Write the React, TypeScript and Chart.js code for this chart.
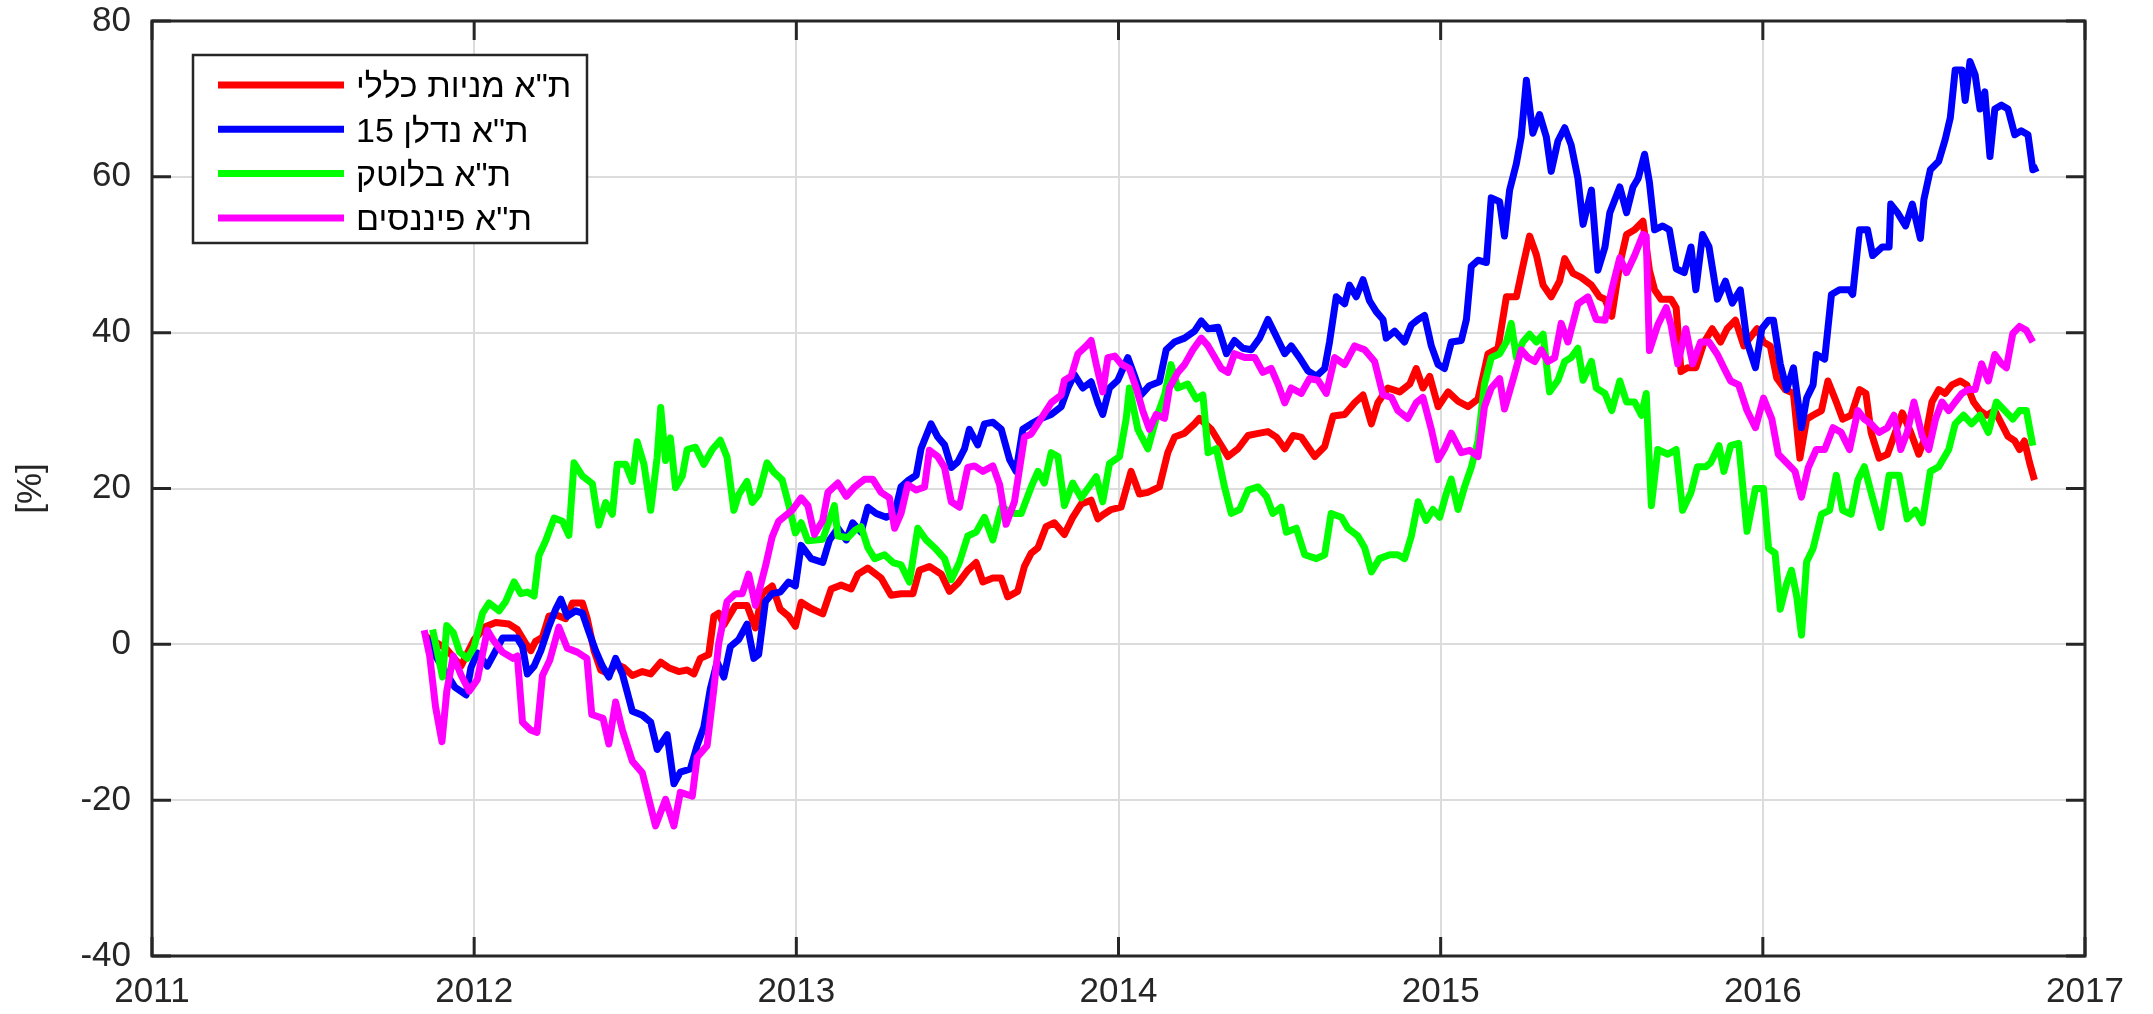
import React, { useEffect, useRef } from 'react';
import { Chart, registerables } from 'chart.js';

Chart.register(...registerables);

// ---- data (decimal year, percent) ----
const SERIES_LABELS = ['ת"א מניות כללי', 'ת"א נדלן 15', 'ת"א בלוטק', 'ת"א פיננסים'];
const SERIES_COLORS = ['#ff0000', '#0000ff', '#00ff00', '#ff00ff'];
const X_TICKS = [2011, 2012, 2013, 2014, 2015, 2016, 2017];
const Y_TICKS = [-40, -20, 0, 20, 40, 60, 80];

const redSeries = [
  [2011.850, 1.0], [2011.912, -0.5], [2011.959, -2.8], [2012.000, 0.6], [2012.036, 2.3], [2012.067, 2.8], [2012.108, 2.6], [2012.134, 1.9], [2012.160, 0.1], [2012.176, -0.8],
  [2012.191, 0.4], [2012.212, 0.9], [2012.232, 3.6], [2012.253, 3.8], [2012.284, 3.3], [2012.305, 5.3], [2012.336, 5.3], [2012.351, 3.3], [2012.372, -0.8], [2012.393, -3.3],
  [2012.418, -3.8], [2012.439, -2.5], [2012.465, -3.0], [2012.491, -4.0], [2012.522, -3.5], [2012.548, -3.8], [2012.579, -2.3], [2012.604, -3.0], [2012.635, -3.5], [2012.661, -3.3],
  [2012.682, -3.8], [2012.702, -1.8], [2012.728, -1.3], [2012.744, 3.6], [2012.759, 4.0], [2012.775, 2.5], [2012.811, 5.0], [2012.847, 5.0], [2012.873, 2.1], [2012.894, 6.5],
  [2012.925, 7.5], [2012.950, 4.5], [2012.976, 3.6], [2012.997, 2.3],
  [2013.015, 5.4], [2013.046, 4.6], [2013.082, 3.9], [2013.108, 7.1], [2013.139, 7.6], [2013.170, 7.1], [2013.191, 9.0], [2013.222, 9.8], [2013.263, 8.5], [2013.294, 6.3],
  [2013.325, 6.5], [2013.362, 6.5], [2013.382, 9.5], [2013.413, 10.0], [2013.450, 9.0], [2013.475, 6.8], [2013.501, 7.8], [2013.532, 9.5], [2013.558, 10.5], [2013.579, 8.0],
  [2013.610, 8.5], [2013.636, 8.5], [2013.656, 6.1], [2013.687, 6.8], [2013.708, 10.0], [2013.729, 11.7], [2013.750, 12.4], [2013.775, 15.1], [2013.801, 15.6], [2013.832, 14.1],
  [2013.858, 16.3], [2013.884, 18.0], [2013.915, 18.5], [2013.936, 16.1], [2013.951, 16.6], [2013.977, 17.3], [2014.008, 17.6], [2014.039, 22.2], [2014.065, 19.3], [2014.091, 19.5],
  [2014.127, 20.2], [2014.153, 24.6], [2014.174, 26.6], [2014.205, 27.1], [2014.236, 28.3], [2014.251, 29.0],
  [2014.288, 27.6], [2014.340, 24.1], [2014.371, 25.1], [2014.402, 26.8], [2014.438, 27.1], [2014.464, 27.3], [2014.490, 26.6], [2014.516, 25.1], [2014.542, 26.8], [2014.567, 26.6],
  [2014.609, 24.1], [2014.640, 25.4], [2014.666, 29.3], [2014.702, 29.5], [2014.733, 31.0], [2014.759, 32.0], [2014.785, 28.3], [2014.805, 31.0], [2014.836, 32.9], [2014.873, 32.4],
  [2014.904, 33.4], [2014.924, 35.4], [2014.945, 32.9], [2014.966, 34.4], [2014.992, 30.5], [2015.023, 32.4], [2015.054, 31.2], [2015.085, 30.5], [2015.116, 31.5], [2015.147, 37.3],
  [2015.178, 38.0], [2015.204, 44.6], [2015.235, 44.6], [2015.255, 48.5], [2015.276, 52.4], [2015.297, 50.0], [2015.318, 46.1], [2015.343, 44.6], [2015.369, 46.6], [2015.385, 49.5],
  [2015.411, 47.6], [2015.436, 47.1], [2015.468, 46.1], [2015.493, 44.6],
  [2015.510, 44.3], [2015.531, 42.1], [2015.556, 48.8], [2015.577, 52.6], [2015.602, 53.2], [2015.628, 54.3], [2015.648, 48.0], [2015.664, 45.5], [2015.684, 44.3], [2015.715, 44.3],
  [2015.731, 43.2], [2015.746, 35.0], [2015.766, 35.5], [2015.792, 35.5], [2015.818, 38.8], [2015.843, 40.5], [2015.869, 38.8], [2015.889, 40.5], [2015.915, 41.6], [2015.941, 38.3],
  [2015.961, 39.4], [2015.982, 40.5], [2016.002, 38.8], [2016.023, 38.3], [2016.043, 34.2], [2016.069, 32.7], [2016.095, 32.2], [2016.115, 23.9], [2016.136, 28.9], [2016.156, 29.4],
  [2016.182, 30.0], [2016.202, 33.8], [2016.228, 31.1], [2016.248, 28.9], [2016.274, 29.4], [2016.300, 32.7], [2016.320, 32.2], [2016.336, 27.2], [2016.361, 23.9], [2016.387, 24.4],
  [2016.407, 26.7], [2016.433, 29.7], [2016.459, 27.2], [2016.484, 24.4], [2016.505, 26.7], [2016.525, 31.1], [2016.546, 32.7], [2016.566, 32.2], [2016.587, 33.3], [2016.613, 33.8],
  [2016.633, 33.3], [2016.654, 31.1], [2016.674, 30.0], [2016.695, 29.4], [2016.720, 30.0], [2016.741, 28.3], [2016.761, 26.7], [2016.782, 26.1], [2016.797, 25.0], [2016.812, 26.1],
  [2016.828, 23.3], [2016.843, 21.1],
];

const blueSeries = [
  [2011.850, 1.0], [2011.880, -1.5], [2011.910, -3.5], [2011.940, -5.5], [2011.975, -6.5], [2011.990, -3.0], [2012.010, -1.1], [2012.041, -2.8], [2012.088, 0.8], [2012.134, 0.8],
  [2012.150, -0.3], [2012.165, -3.8], [2012.186, -2.8], [2012.207, -0.8], [2012.232, 2.3], [2012.253, 4.5], [2012.269, 5.8], [2012.289, 3.6], [2012.315, 4.3], [2012.336, 4.0],
  [2012.356, 1.6], [2012.377, -0.8], [2012.398, -2.8], [2012.418, -4.2], [2012.439, -1.8], [2012.460, -3.8], [2012.491, -8.6], [2012.522, -9.1], [2012.548, -10.0], [2012.568, -13.5],
  [2012.599, -11.6], [2012.620, -17.9], [2012.640, -16.4], [2012.671, -16.0], [2012.692, -13.0], [2012.713, -10.6], [2012.733, -5.7], [2012.754, -2.3], [2012.775, -4.2], [2012.795, -0.3],
  [2012.821, 0.6], [2012.847, 2.6], [2012.868, -1.8], [2012.883, -1.3], [2012.904, 5.5], [2012.925, 6.5], [2012.950, 6.7], [2012.976, 8.0], [2012.997, 7.5],
  [2013.015, 12.7], [2013.046, 11.0], [2013.082, 10.5], [2013.103, 13.4], [2013.129, 14.9], [2013.155, 13.4], [2013.175, 15.6], [2013.201, 14.4], [2013.222, 17.6], [2013.248, 16.8],
  [2013.279, 16.3], [2013.305, 16.8], [2013.325, 20.2], [2013.346, 21.0], [2013.372, 21.7], [2013.387, 25.1], [2013.418, 28.3], [2013.439, 26.6], [2013.460, 25.6], [2013.481, 22.7],
  [2013.501, 23.4], [2013.522, 25.1], [2013.537, 27.6], [2013.563, 25.6], [2013.584, 28.3], [2013.610, 28.5], [2013.636, 27.6], [2013.662, 23.7], [2013.682, 22.2], [2013.703, 27.6],
  [2013.729, 28.3], [2013.760, 29.0], [2013.791, 29.5], [2013.822, 30.5], [2013.843, 32.9], [2013.863, 34.6], [2013.889, 32.9], [2013.915, 33.7], [2013.936, 31.0], [2013.951, 29.5],
  [2013.972, 32.9], [2013.998, 33.9], [2014.029, 36.8], [2014.050, 34.4], [2014.070, 32.0], [2014.096, 33.2], [2014.127, 33.7], [2014.148, 37.8], [2014.174, 38.8], [2014.205, 39.3],
  [2014.236, 40.2], [2014.257, 41.5],
  [2014.278, 40.5], [2014.309, 40.7], [2014.335, 37.3], [2014.360, 39.0], [2014.386, 38.0], [2014.412, 37.8], [2014.438, 39.3], [2014.464, 41.7], [2014.490, 39.5], [2014.516, 37.3],
  [2014.536, 38.3], [2014.562, 36.8], [2014.588, 35.1], [2014.614, 34.4], [2014.640, 35.4], [2014.655, 38.8], [2014.676, 44.6], [2014.702, 43.7], [2014.717, 46.1], [2014.738, 44.6],
  [2014.759, 46.8], [2014.779, 44.1], [2014.800, 42.7], [2014.821, 41.7], [2014.831, 39.3], [2014.857, 40.2], [2014.888, 38.8], [2014.909, 41.0], [2014.930, 41.7], [2014.950, 42.2],
  [2014.971, 38.3], [2014.992, 35.9], [2015.012, 35.4], [2015.033, 38.8], [2015.064, 39.0], [2015.080, 41.7], [2015.095, 48.5], [2015.116, 49.3], [2015.142, 49.0], [2015.157, 57.3],
  [2015.183, 56.8], [2015.198, 52.4], [2015.214, 58.3], [2015.235, 61.7], [2015.250, 65.1], [2015.266, 72.4], [2015.286, 65.6], [2015.307, 68.0], [2015.328, 65.1], [2015.343, 60.7],
  [2015.364, 64.6], [2015.385, 66.3], [2015.405, 64.1], [2015.426, 59.8], [2015.442, 53.9], [2015.468, 58.3], [2015.488, 48.0],
  [2015.510, 51.0], [2015.525, 55.4], [2015.556, 58.7], [2015.577, 55.4], [2015.597, 58.7], [2015.613, 59.8], [2015.633, 62.9], [2015.648, 59.3], [2015.664, 53.2], [2015.689, 53.7],
  [2015.710, 53.2], [2015.731, 48.2], [2015.756, 47.7], [2015.777, 51.0], [2015.792, 45.5], [2015.813, 52.6], [2015.833, 51.0], [2015.859, 44.3], [2015.884, 46.6], [2015.905, 43.8],
  [2015.930, 45.5], [2015.951, 38.8], [2015.977, 35.5], [2015.997, 40.5], [2016.018, 41.6], [2016.033, 41.6], [2016.054, 36.0], [2016.074, 32.7], [2016.095, 35.5], [2016.120, 27.8],
  [2016.136, 31.6], [2016.156, 33.3], [2016.166, 37.2], [2016.192, 36.6], [2016.213, 44.9], [2016.238, 45.5], [2016.269, 45.5], [2016.279, 44.9], [2016.300, 53.2], [2016.325, 53.2],
  [2016.341, 49.9], [2016.371, 51.0], [2016.392, 51.0], [2016.397, 56.5], [2016.418, 55.4], [2016.443, 53.7], [2016.464, 56.5], [2016.489, 52.1], [2016.500, 57.1], [2016.520, 60.9],
  [2016.546, 62.0], [2016.566, 64.8], [2016.582, 67.6], [2016.597, 73.7], [2016.618, 73.7], [2016.628, 69.8], [2016.643, 74.8], [2016.659, 73.1], [2016.674, 68.7], [2016.689, 70.9],
  [2016.705, 62.6], [2016.720, 68.7], [2016.741, 69.2], [2016.761, 68.7], [2016.782, 65.4], [2016.802, 65.9], [2016.823, 65.4], [2016.838, 60.9], [2016.854, 61.2],
];

const greenSeries = [
  [2011.871, 1.9], [2011.902, -4.2], [2011.915, 2.4], [2011.935, 1.5], [2011.955, -1.0], [2011.979, -1.8], [2012.000, -0.3], [2012.026, 4.0], [2012.046, 5.3], [2012.077, 4.3],
  [2012.098, 5.5], [2012.124, 8.0], [2012.145, 6.5], [2012.165, 6.7], [2012.186, 6.2], [2012.201, 11.4], [2012.222, 13.3], [2012.248, 16.2], [2012.274, 15.8], [2012.294, 14.0],
  [2012.310, 23.3], [2012.336, 21.6], [2012.367, 20.6], [2012.387, 15.3], [2012.408, 18.2], [2012.429, 16.7], [2012.444, 23.1], [2012.470, 23.1], [2012.491, 20.9], [2012.506, 26.0],
  [2012.527, 23.1], [2012.548, 17.2], [2012.568, 24.0], [2012.579, 30.4], [2012.594, 23.6], [2012.609, 26.5], [2012.625, 20.1], [2012.646, 21.6], [2012.661, 25.0], [2012.687, 25.3],
  [2012.713, 23.1], [2012.739, 25.0], [2012.764, 26.2], [2012.785, 24.0], [2012.806, 17.2], [2012.821, 19.2], [2012.847, 20.9], [2012.863, 18.2], [2012.883, 19.2], [2012.909, 23.3],
  [2012.930, 22.1], [2012.956, 21.1], [2012.976, 18.0], [2012.997, 14.3],
  [2013.015, 15.6], [2013.036, 13.3], [2013.082, 13.5], [2013.118, 17.8], [2013.129, 13.9], [2013.160, 13.7], [2013.181, 14.6], [2013.201, 15.1], [2013.222, 12.4], [2013.243, 11.0],
  [2013.274, 11.5], [2013.300, 10.5], [2013.325, 10.2], [2013.351, 8.0], [2013.377, 14.9], [2013.403, 13.4], [2013.429, 12.4], [2013.460, 11.0], [2013.481, 8.3], [2013.506, 10.5],
  [2013.532, 13.9], [2013.558, 14.4], [2013.584, 16.3], [2013.610, 13.4], [2013.636, 17.6], [2013.677, 16.8], [2013.698, 16.8], [2013.729, 20.2], [2013.750, 22.2], [2013.770, 20.7],
  [2013.791, 24.6], [2013.812, 24.1], [2013.832, 17.8], [2013.858, 20.7], [2013.884, 18.8], [2013.905, 20.0], [2013.931, 21.5], [2013.951, 18.3], [2013.972, 23.2], [2014.003, 24.1],
  [2014.024, 29.0], [2014.034, 32.9], [2014.060, 27.6], [2014.091, 25.1], [2014.117, 29.0], [2014.143, 32.0], [2014.163, 35.9], [2014.184, 32.9], [2014.215, 33.4], [2014.241, 31.5],
  [2014.262, 32.0], [2014.278, 24.6], [2014.304, 25.1], [2014.329, 20.2], [2014.350, 16.8], [2014.376, 17.3], [2014.402, 19.8],
  [2014.433, 20.2], [2014.459, 19.0], [2014.479, 16.8], [2014.505, 17.6], [2014.521, 14.4], [2014.552, 14.9], [2014.578, 11.5], [2014.614, 11.0], [2014.640, 11.5], [2014.660, 16.8],
  [2014.692, 16.3], [2014.712, 14.9], [2014.743, 13.9], [2014.764, 12.4], [2014.785, 9.3], [2014.810, 11.0], [2014.842, 11.5], [2014.867, 11.5], [2014.888, 11.0], [2014.909, 13.9],
  [2014.930, 18.3], [2014.955, 15.9], [2014.976, 17.3], [2014.997, 16.3], [2015.017, 19.3], [2015.033, 21.2], [2015.054, 17.3], [2015.074, 20.2], [2015.095, 22.7], [2015.116, 26.1],
  [2015.136, 33.4], [2015.157, 36.8], [2015.183, 37.3], [2015.204, 38.8], [2015.219, 41.2], [2015.235, 36.8], [2015.255, 38.8], [2015.276, 39.8], [2015.297, 38.8], [2015.318, 39.8],
  [2015.338, 32.4], [2015.364, 33.9], [2015.385, 36.3], [2015.405, 36.8], [2015.426, 38.0], [2015.442, 33.9], [2015.468, 36.3], [2015.483, 32.9],
  [2015.510, 32.2], [2015.531, 30.0], [2015.556, 33.8], [2015.577, 31.1], [2015.602, 31.1], [2015.623, 29.4], [2015.638, 32.2], [2015.654, 17.8], [2015.674, 25.0], [2015.705, 24.4],
  [2015.731, 25.0], [2015.751, 17.2], [2015.777, 19.5], [2015.797, 22.8], [2015.823, 22.8], [2015.838, 23.3], [2015.864, 25.5], [2015.879, 22.2], [2015.900, 25.5], [2015.925, 25.8],
  [2015.951, 14.5], [2015.977, 20.0], [2016.002, 20.0], [2016.018, 12.3], [2016.038, 11.7], [2016.054, 4.5], [2016.074, 7.8], [2016.089, 9.5], [2016.105, 6.2], [2016.120, 1.2],
  [2016.136, 10.6], [2016.156, 12.3], [2016.182, 16.7], [2016.207, 17.2], [2016.228, 21.7], [2016.248, 17.2], [2016.274, 16.7], [2016.295, 21.1], [2016.315, 22.8], [2016.336, 19.5],
  [2016.366, 15.0], [2016.392, 21.7], [2016.423, 21.7], [2016.448, 16.1], [2016.474, 17.2], [2016.495, 15.6], [2016.520, 22.2], [2016.546, 22.8], [2016.577, 25.0], [2016.597, 28.3],
  [2016.623, 29.4], [2016.648, 28.3], [2016.674, 29.4], [2016.700, 27.2], [2016.725, 31.1], [2016.751, 30.0], [2016.776, 28.9], [2016.797, 30.0], [2016.818, 30.0], [2016.838, 25.5],
];

const magentaSeries = [
  [2011.845, 1.8], [2011.862, -1.5], [2011.880, -8.0], [2011.900, -12.5], [2011.915, -6.0], [2011.935, -1.5], [2011.960, -4.0], [2011.985, -6.0], [2012.010, -4.5], [2012.041, 1.8],
  [2012.060, 0.5], [2012.088, -1.0], [2012.120, -1.8], [2012.134, -1.5], [2012.150, -10.0], [2012.175, -11.0], [2012.195, -11.3], [2012.212, -4.0], [2012.235, -2.0], [2012.263, 2.2],
  [2012.289, -0.5], [2012.320, -1.0], [2012.350, -1.8], [2012.365, -9.0], [2012.400, -9.5], [2012.418, -12.8], [2012.439, -7.4], [2012.460, -11.0], [2012.491, -15.0], [2012.522, -16.5],
  [2012.563, -23.3], [2012.594, -19.9], [2012.620, -23.3], [2012.640, -19.0], [2012.677, -19.5], [2012.692, -14.5], [2012.723, -13.0], [2012.744, -5.7], [2012.759, 0.1], [2012.785, 5.5],
  [2012.811, 6.5], [2012.832, 6.5], [2012.852, 9.0], [2012.873, 5.0], [2012.904, 10.0], [2012.925, 13.8], [2012.945, 15.8], [2012.987, 17.2],
  [2013.015, 18.8], [2013.036, 17.8], [2013.056, 14.1], [2013.082, 15.9], [2013.098, 19.5], [2013.129, 20.7], [2013.155, 19.0], [2013.181, 20.2], [2013.212, 21.2], [2013.237, 21.2],
  [2013.263, 19.5], [2013.289, 18.8], [2013.305, 14.9], [2013.325, 16.8], [2013.346, 20.5], [2013.372, 19.8], [2013.398, 20.2], [2013.413, 24.9], [2013.439, 24.1], [2013.460, 22.7],
  [2013.481, 18.3], [2013.506, 17.6], [2013.532, 22.7], [2013.553, 22.9], [2013.579, 22.2], [2013.610, 22.9], [2013.631, 20.5], [2013.651, 15.4], [2013.677, 18.3], [2013.708, 26.6],
  [2013.729, 27.0], [2013.760, 29.0], [2013.791, 31.0], [2013.822, 32.0], [2013.832, 33.9], [2013.853, 34.4], [2013.874, 37.3], [2013.900, 38.3], [2013.915, 39.0], [2013.931, 35.9],
  [2013.951, 32.4], [2013.967, 36.8], [2013.988, 37.0], [2014.008, 36.0], [2014.034, 35.4], [2014.055, 32.9], [2014.075, 30.0], [2014.096, 27.6], [2014.117, 29.5], [2014.143, 29.0],
  [2014.158, 32.9], [2014.184, 34.9], [2014.205, 35.9], [2014.231, 37.8], [2014.257, 39.3],
  [2014.278, 38.3], [2014.319, 35.4], [2014.340, 34.9], [2014.360, 37.3], [2014.392, 36.8], [2014.423, 36.8], [2014.448, 34.9], [2014.474, 35.4], [2014.495, 33.4], [2014.516, 31.0],
  [2014.536, 32.9], [2014.567, 32.2], [2014.593, 34.1], [2014.619, 33.9], [2014.645, 32.2], [2014.671, 36.8], [2014.702, 35.9], [2014.733, 38.3], [2014.764, 37.8], [2014.795, 36.3],
  [2014.821, 32.0], [2014.847, 31.7], [2014.867, 30.0], [2014.898, 29.0], [2014.924, 31.0], [2014.945, 31.7], [2014.971, 27.6], [2014.992, 23.7], [2015.012, 25.1], [2015.033, 27.1],
  [2015.064, 24.6], [2015.090, 24.9], [2015.116, 24.1], [2015.136, 30.5], [2015.157, 32.9], [2015.183, 34.1], [2015.198, 30.2], [2015.224, 33.9], [2015.250, 37.8], [2015.271, 36.8],
  [2015.292, 36.3], [2015.312, 37.8], [2015.333, 36.3], [2015.354, 36.8], [2015.374, 41.2], [2015.395, 38.8], [2015.426, 43.7], [2015.457, 44.6], [2015.483, 41.7], [2015.510, 41.6],
  [2015.531, 45.5], [2015.556, 49.6], [2015.577, 47.7], [2015.602, 49.9], [2015.628, 52.6], [2015.638, 52.4], [2015.648, 37.7], [2015.674, 41.0], [2015.700, 43.2], [2015.715, 41.0],
  [2015.736, 36.0], [2015.761, 40.5], [2015.782, 36.0], [2015.807, 38.8], [2015.833, 38.8], [2015.859, 37.2], [2015.879, 35.5], [2015.900, 33.8], [2015.925, 33.3], [2015.951, 30.0],
  [2015.977, 27.8], [2016.002, 31.6], [2016.028, 28.9], [2016.048, 24.4], [2016.074, 23.3], [2016.100, 22.2], [2016.120, 18.9], [2016.141, 22.7], [2016.166, 25.0], [2016.192, 25.0],
  [2016.218, 27.8], [2016.243, 27.2], [2016.269, 25.0], [2016.295, 30.0], [2016.315, 28.9], [2016.336, 28.3], [2016.361, 27.2], [2016.387, 27.8], [2016.407, 29.4], [2016.428, 25.0],
  [2016.448, 27.2], [2016.469, 31.1], [2016.495, 26.7], [2016.515, 25.0], [2016.536, 28.9], [2016.556, 31.1], [2016.577, 30.0], [2016.597, 31.1], [2016.618, 32.2], [2016.638, 32.7],
  [2016.659, 32.7], [2016.679, 36.0], [2016.700, 33.8], [2016.720, 37.2], [2016.741, 36.0], [2016.756, 35.5], [2016.776, 39.9], [2016.797, 40.8], [2016.818, 40.3], [2016.838, 38.8],
];

const ALL_SERIES = [redSeries, blueSeries, greenSeries, magentaSeries];

// ---- style ----
const FONT_FAMILY = '"Liberation Sans", Arial, sans-serif';
const TEXT_COLOR = '#262626';
const AXIS_COLOR = '#262626';
const GRID_COLOR = '#dcdcdc';
const TICK_LEN = 19;

const frameAndLegend = {
  id: 'frameAndLegend',
  afterDraw(chart: any) {
    const { ctx, chartArea } = chart;
    const { left, right, top, bottom } = chartArea;
    const xs = chart.scales.x;
    const ys = chart.scales.y;
    ctx.save();
    ctx.strokeStyle = AXIS_COLOR;
    ctx.lineWidth = 3;
    ctx.beginPath();
    Y_TICKS.forEach((v) => {
      const py = ys.getPixelForValue(v);
      ctx.moveTo(left, py); ctx.lineTo(left + TICK_LEN, py);
      ctx.moveTo(right, py); ctx.lineTo(right - TICK_LEN, py);
    });
    X_TICKS.forEach((v) => {
      const px = xs.getPixelForValue(v);
      ctx.moveTo(px, bottom); ctx.lineTo(px, bottom - TICK_LEN);
      ctx.moveTo(px, top); ctx.lineTo(px, top + TICK_LEN);
    });
    ctx.stroke();
    ctx.strokeRect(left, top, right - left, bottom - top);

    // legend
    const bx = 193, by = 55, bw = 394, bh = 188;
    ctx.fillStyle = '#ffffff';
    ctx.fillRect(bx, by, bw, bh);
    ctx.lineWidth = 2.5;
    ctx.strokeStyle = AXIS_COLOR;
    ctx.strokeRect(bx, by, bw, bh);
    chart.data.datasets.forEach((ds: any, i: number) => {
      const ry = 85 + i * 44.3;
      ctx.strokeStyle = ds.borderColor;
      ctx.lineWidth = 7;
      ctx.lineCap = 'butt';
      ctx.beginPath();
      ctx.moveTo(218, ry);
      ctx.lineTo(344, ry);
      ctx.stroke();
      ctx.fillStyle = '#000000';
      ctx.font = `34px ${FONT_FAMILY}`;
      (ctx as any).direction = 'rtl';
      ctx.textAlign = 'left';
      ctx.textBaseline = 'middle';
      ctx.fillText(ds.label, 356, ry + 3);
    });
    ctx.restore();
  },
};

export default function App() {
  const canvasRef = useRef<HTMLCanvasElement | null>(null);

  useEffect(() => {
    if (!canvasRef.current) return;
    const datasets = ALL_SERIES.map((series, i) => ({
      label: SERIES_LABELS[i],
      data: series.map(([x, y]) => ({ x, y })),
      borderColor: SERIES_COLORS[i],
      backgroundColor: SERIES_COLORS[i],
      borderWidth: 7,
      pointRadius: 0,
      tension: 0,
      fill: false,
      borderJoinStyle: 'round' as const,
      order: 4 - i,
    }));
    const tickFont = { family: FONT_FAMILY, size: 35 };
    const chart = new Chart(canvasRef.current, {
      type: 'line',
      data: { datasets },
      options: {
        responsive: false,
        animation: false,
        events: [],
        layout: { padding: { top: 21, right: 68, left: 0, bottom: 0 } },
        plugins: { legend: { display: false }, tooltip: { enabled: false } },
        scales: {
          x: {
            type: 'linear',
            min: 2011,
            max: 2017,
            afterFit: (s: any) => {
              s.height = 58;
              s.paddingLeft = 0;
              s.paddingRight = 0;
            },
            grid: { color: GRID_COLOR, lineWidth: 2, drawTicks: false },
            border: { display: false },
            ticks: {
              stepSize: 1,
              padding: 15,
              autoSkip: false,
              maxRotation: 0,
              color: TEXT_COLOR,
              font: tickFont,
              callback: (v: any) => String(v),
            },
          },
          y: {
            type: 'linear',
            min: -40,
            max: 80,
            afterFit: (s: any) => {
              s.width = 152;
              s.paddingTop = 0;
              s.paddingBottom = 0;
            },
            grid: { color: GRID_COLOR, lineWidth: 2, drawTicks: false },
            border: { display: false },
            title: { display: true, text: '[%]', color: TEXT_COLOR, font: tickFont, padding: { top: 10, bottom: 0 } },
            ticks: { stepSize: 20, padding: 21, color: TEXT_COLOR, font: tickFont },
          },
        },
      },
      plugins: [frameAndLegend],
    });
    return () => chart.destroy();
  }, []);

  return (
    <div style={{ position: 'fixed', left: 0, top: 0, width: 2153, height: 1014, background: '#ffffff' }}>
      <canvas ref={canvasRef} width={2153} height={1014} style={{ display: 'block' }} />
    </div>
  );
}
